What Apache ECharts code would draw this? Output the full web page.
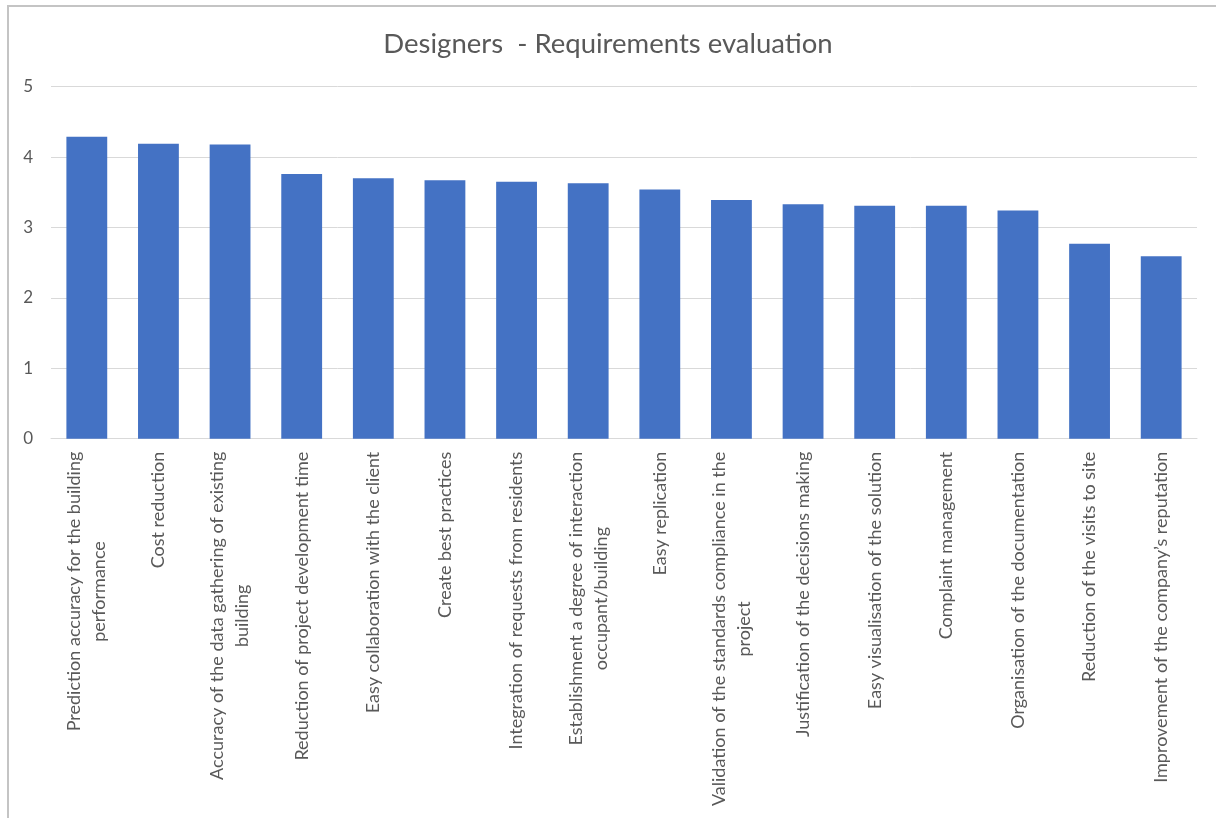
<!DOCTYPE html>
<html>
<head>
<meta charset="utf-8">
<title>Designers - Requirements evaluation</title>
<script src="https://cdn.jsdelivr.net/npm/echarts@6/dist/echarts.min.js"></script>
<style>
  html, body { margin: 0; padding: 0; background: #ffffff; }
  #chart { width: 1216px; height: 818px; }
</style>
</head>
<body>
<div id="chart"></div>
<script>
// Requirement names (line breaks where the labels wrap)
const categories = [
  'Prediction accuracy for the building\nperformance',
  'Cost reduction',
  'Accuracy of the data gathering of existing\nbuilding',
  'Reduction of project development time',
  'Easy collaboration with the client',
  'Create best practices',
  'Integration of requests from residents',
  'Establishment a degree of interaction\noccupant/building',
  'Easy replication',
  'Validation of the standards compliance in the\nproject',
  'Justification of the decisions making',
  'Easy visualisation of the solution',
  'Complaint management',
  'Organisation of the documentation',
  'Reduction of the visits to site',
  'Improvement of the company\u2019s reputation'
];

// Average evaluation score per requirement
const scores = [4.29, 4.19, 4.18, 3.76, 3.70, 3.67, 3.65, 3.63, 3.54, 3.39, 3.33, 3.31, 3.31, 3.24, 2.77, 2.59];

// Value axis ticks
const yTicks = [0, 1, 2, 3, 4, 5];

const FONT = 'Lato, "Open Sans", sans-serif';
const TEXT = '#595959';
const GRID = '#d9d9d9';

const chart = echarts.init(document.getElementById('chart'), null, { renderer: 'canvas' });

chart.setOption({
  backgroundColor: '#ffffff',
  animation: false,
  title: {
    text: 'Designers  - Requirements evaluation',
    left: 'center',
    top: 30,
    padding: 0,
    textStyle: { fontFamily: FONT, fontSize: 27.5, fontWeight: 'normal', color: TEXT }
  },
  graphic: [{
    type: 'polyline',
    shape: { points: [[8, 818], [8, 6], [1216, 6]] },
    style: { stroke: '#c4c4c4', lineWidth: 2, fill: null },
    silent: true
  }],
  grid: { left: 51, right: 19, top: 86.7, bottom: 379.3, containLabel: false },
  xAxis: {
    type: 'category',
    data: categories,
    axisLine: { show: true, lineStyle: { color: GRID, width: 1 } },
    axisTick: { show: false },
    axisLabel: {
      interval: 0,
      rotate: 90,
      margin: 13,
      hideOverlap: false,
      formatter: function (v) {
        return v.split('\n').map(function (s) { return '{c|' + s + '}'; }).join('\n');
      },
      rich: {
        c: { align: 'center', fontFamily: FONT, fontSize: 18, lineHeight: 25, color: TEXT }
      }
    }
  },
  yAxis: {
    type: 'value',
    min: yTicks[0],
    max: yTicks[yTicks.length - 1],
    interval: 1,
    axisLine: { show: false },
    axisTick: { show: false },
    splitLine: { show: true, lineStyle: { color: GRID, width: 1 } },
    axisLabel: {
      margin: 18,
      fontFamily: FONT,
      fontSize: 17,
      color: TEXT,
      formatter: function (v) { return yTicks.indexOf(v) >= 0 ? String(v) : ''; }
    }
  },
  series: [{
    type: 'bar',
    data: scores,
    barCategoryGap: '43%',
    itemStyle: { color: '#4472C4' },
    emphasis: { disabled: true }
  }]
});
</script>
</body>
</html>
